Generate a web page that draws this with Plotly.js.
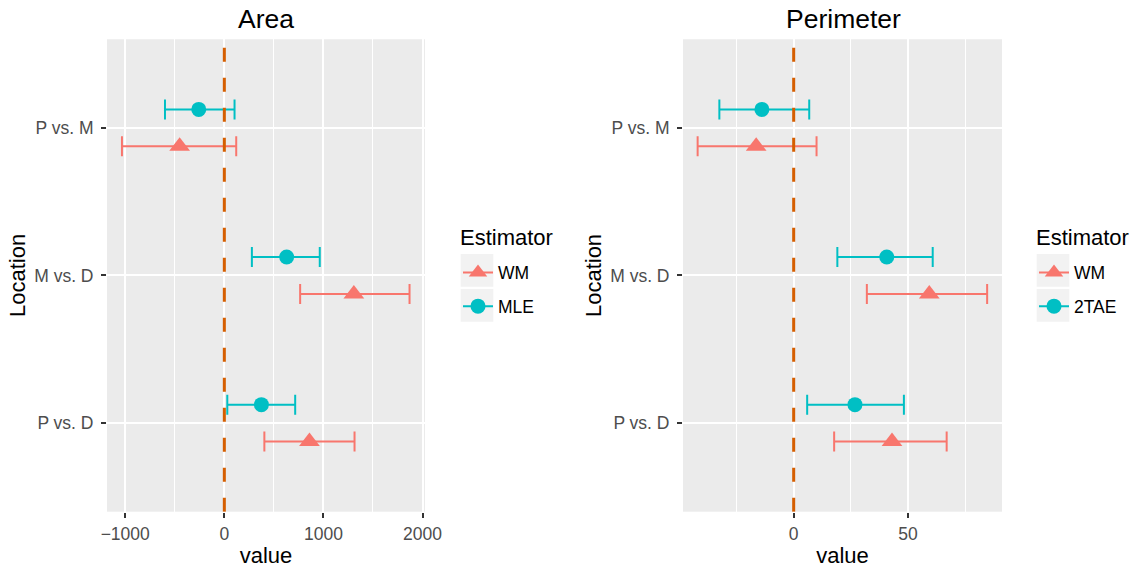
<!DOCTYPE html>
<html><head><meta charset="utf-8">
<script src="https://cdn.plot.ly/plotly-3.0.1.min.js"></script>
<style>body{margin:0;background:#fff;} #chart{width:1136px;height:571px;}</style>
</head><body><div id="chart"></div>
<script>
// Categories, bottom to top (ggplot factor order)
const locations = ["P vs. D", "M vs. D", "P vs. M"];

// Area panel
const areaWM      = [859, 1307, -451];
const areaWMLow   = [404, 765, -1033];
const areaWMHigh  = [1314, 1869, 120];
const areaMLE     = [374, 629, -258];
const areaMLELow  = [30, 278, -599];
const areaMLEHigh = [715, 963, 103];

// Perimeter panel
const perimWM       = [43, 59.3, -16.4];
const perimWMLow    = [17.7, 32, -42];
const perimWMHigh   = [66.9, 84.6, 10];
const perim2TAE     = [26.8, 40.7, -13.9];
const perim2TAELow  = [5.9, 19.1, -32.5];
const perim2TAEHigh = [48.2, 60.8, 6.8];

const areaTicks = [-1000, 0, 1000, 2000];
const perimTicks = [0, 50];

const RED = '#F8766D', TEAL = '#00BFC4', VLINE = '#D55E00';
const FONT = 'Liberation Sans, Arial, Helvetica, sans-serif';
const W = 1136, H = 571;

function pos(off) { return locations.map((_, k) => k + 1 + off); }

function estTrace(vals, lo, hi, color, symbol, size, off, xa, ya, name) {
  return {
    type: 'scatter', mode: 'markers', name: name, showlegend: false,
    x: vals, y: pos(off), xaxis: xa, yaxis: ya,
    marker: {color: color, symbol: symbol, size: size, line: {width: 0}},
    error_x: {type: 'data', symmetric: false,
      array: hi.map((h, k) => h - vals[k]),
      arrayminus: lo.map((l, k) => vals[k] - l),
      color: color, thickness: 2, width: 10}
  };
}
function legTrace(name, color, symbol, size, xa, ya, leg) {
  return {
    type: 'scatter', mode: 'lines+markers', name: name, legend: leg, legendgroup: leg + name,
    x: [null], y: [null], xaxis: xa, yaxis: ya,
    line: {color: color, width: 2},
    marker: {color: color, symbol: symbol, size: size, line: {width: 0}}
  };
}

const D = 0.125;
const data = [
  estTrace(areaWM, areaWMLow, areaWMHigh, RED, 'triangle-up', 18, -D, 'x', 'y', 'WM'),
  estTrace(areaMLE, areaMLELow, areaMLEHigh, TEAL, 'circle', 15, D, 'x', 'y', 'MLE'),
  estTrace(perimWM, perimWMLow, perimWMHigh, RED, 'triangle-up', 18, -D, 'x2', 'y2', 'WM'),
  estTrace(perim2TAE, perim2TAELow, perim2TAEHigh, TEAL, 'circle', 15, D, 'x2', 'y2', '2TAE'),
  legTrace('WM', RED, 'triangle-up', 18, 'x', 'y', 'legend'),
  legTrace('MLE', TEAL, 'circle', 15, 'x', 'y', 'legend'),
  legTrace('WM', RED, 'triangle-up', 18, 'x2', 'y2', 'legend2'),
  legTrace('2TAE', TEAL, 'circle', 15, 'x2', 'y2', 'legend2')
];

const ydom = [0.1039, 0.9312];
function xAxis(dom, range, ticks, minorStep, anchor) {
  return {
    domain: dom, range: range, tickvals: ticks, ticks: 'outside', ticklen: 5, tickwidth: 2,
    tickcolor: '#333333', tickfont: {size: 17.5, color: '#4D4D4D', family: FONT},
    ticklabelstandoff: 1,
    showgrid: true, gridcolor: '#FFFFFF', gridwidth: 2,
    minor: {dtick: minorStep, tick0: 0, showgrid: true, gridcolor: '#FFFFFF', gridwidth: 1, ticks: ''},
    zeroline: false, showline: false, anchor: anchor, automargin: false,
    title: {text: 'value', font: {size: 22, color: '#000', family: FONT}, standoff: 4}
  };
}
function yAxis(anchor) {
  return {
    domain: ydom, range: [0.4, 3.6], tickvals: [1, 2, 3], ticktext: locations,
    ticks: 'outside', ticklen: 5, tickwidth: 2, tickcolor: '#333333',
    tickfont: {size: 17.5, color: '#4D4D4D', family: FONT}, ticklabelstandoff: 4,
    showgrid: true, gridcolor: '#FFFFFF', gridwidth: 2,
    zeroline: false, showline: false, anchor: anchor, automargin: false,
    title: {text: 'Location', font: {size: 22, color: '#000', family: FONT}, standoff: 2}
  };
}
function legend(x) {
  return {
    x: x, y: 1 - 254.5 / H, xanchor: 'left', yanchor: 'top', bgcolor: 'rgba(0,0,0,0)',
    font: {size: 17.5, color: '#000', family: FONT}, tracegroupgap: 8, itemwidth: 30
  };
}

const keyBoxes = [];
[0, 576].forEach(dx => {
  [[254, 286.7], [289, 321.7]].forEach(([y0, y1]) => {
    keyBoxes.push({type: 'rect', xref: 'paper', yref: 'paper', layer: 'below',
      x0: (460.7 + dx) / W, x1: (493.3 + dx) / W, y0: 1 - y1 / H, y1: 1 - y0 / H,
      fillcolor: '#F2F2F2', line: {width: 0}});
  });
});

function textAnn(text, x, y, size, anchor) {
  return {text: text, xref: 'paper', yref: 'paper', x: x / W, y: 1 - y / H, showarrow: false,
    xanchor: anchor, yanchor: 'middle', font: {size: size, color: '#000', family: FONT}};
}

const layout = {
  width: W, height: H, margin: {l: 0, r: 0, t: 0, b: 0},
  paper_bgcolor: '#FFFFFF', plot_bgcolor: '#EBEBEB',
  font: {family: FONT},
  xaxis: xAxis([107 / W, 425 / W], [-1184, 2025], areaTicks, 500, 'y'),
  yaxis: yAxis('x'),
  xaxis2: xAxis([683 / W, 1002 / W], [-48.4, 91.1], perimTicks, 25, 'y2'),
  yaxis2: yAxis('x2'),
  legend: legend(458 / W),
  legend2: legend(1034 / W),
  shapes: keyBoxes.concat([
    {type: 'line', xref: 'x', yref: 'y domain', x0: 0, x1: 0, y0: 0, y1: 1, layer: 'above',
     line: {color: VLINE, width: 3, dash: '14px,16px'}},
    {type: 'line', xref: 'x2', yref: 'y2 domain', x0: 0, x1: 0, y0: 0, y1: 1, layer: 'above',
     line: {color: VLINE, width: 3, dash: '14px,16px'}}
  ]),
  annotations: [
    textAnn('Area', 266, 19, 26.5, 'center'),
    textAnn('Perimeter', 843, 19, 26.5, 'center'),
    textAnn('Estimator', 458, 237, 22, 'left'),
    textAnn('Estimator', 1034, 237, 22, 'left')
  ]
};

Plotly.newPlot('chart', data, layout, {displayModeBar: false, staticPlot: true});
</script></body></html>
